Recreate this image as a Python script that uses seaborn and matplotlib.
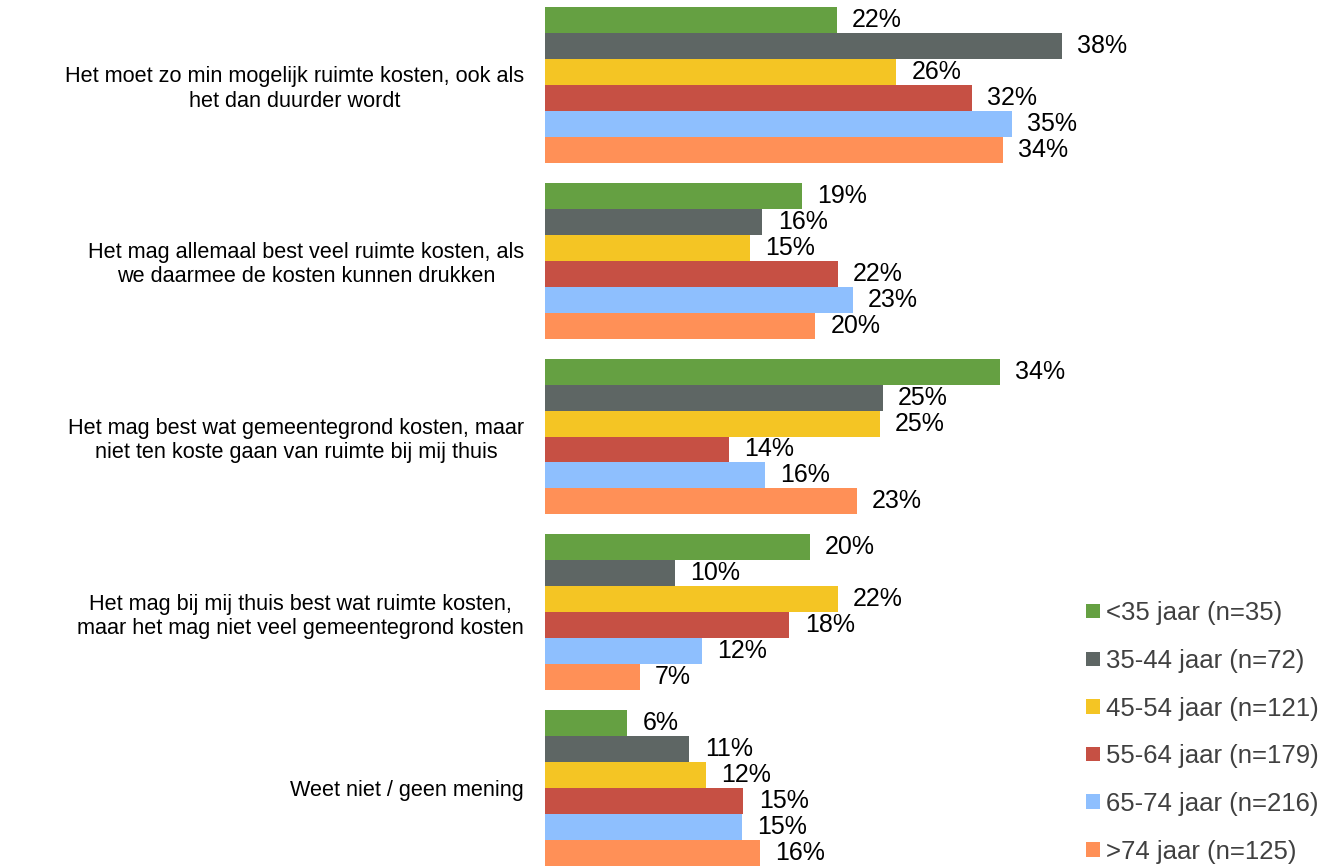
import matplotlib
matplotlib.use("Agg")
import matplotlib.pyplot as plt
import seaborn as sns
import pandas as pd

categories = [
    "Het moet zo min mogelijk ruimte kosten, ook als\nhet dan duurder wordt",
    "Het mag allemaal best veel ruimte kosten, als\nwe daarmee de kosten kunnen drukken",
    "Het mag best wat gemeentegrond kosten, maar\nniet ten koste gaan van ruimte bij mij thuis",
    "Het mag bij mij thuis best wat ruimte kosten,\nmaar het mag niet veel gemeentegrond kosten",
    "Weet niet / geen mening",
]
groups = ["<35 jaar (n=35)", "35-44 jaar (n=72)", "45-54 jaar (n=121)",
          "55-64 jaar (n=179)", "65-74 jaar (n=216)", ">74 jaar (n=125)"]
# bar lengths (labels show rounded values)
v_lt35 = [21.6, 19.0, 33.7, 19.6, 6.1]
v_35_44 = [38.3, 16.1, 25.0, 9.6, 10.7]
v_45_54 = [26.0, 15.2, 24.8, 21.7, 11.9]
v_55_64 = [31.6, 21.7, 13.6, 18.1, 14.7]
v_65_74 = [34.6, 22.8, 16.3, 11.6, 14.6]
v_gt74 = [33.9, 20.0, 23.1, 7.0, 15.9]
colors = ["#65A042", "#5E6664", "#F4C524", "#C65044", "#8EBFFE", "#FF9057"]

series = [v_lt35, v_35_44, v_45_54, v_55_64, v_65_74, v_gt74]
rows = []
for g, vals in zip(groups, series):
    for c, v in zip(categories, vals):
        rows.append({"cat": c, "group": g, "val": v})
df = pd.DataFrame(rows)

sns.set_style("white")
plt.rcParams["font.family"] = ["Liberation Sans", "DejaVu Sans"]

fig = plt.figure(figsize=(13.26, 8.66), dpi=100)
ax = fig.add_axes([545 / 1326, 0.0, 781 / 1326, 1 - 7 / 866])
sns.barplot(data=df, y="cat", x="val", hue="group", order=categories,
            hue_order=groups, palette=colors, orient="h", width=0.886,
            gap=0, ax=ax, errorbar=None, saturation=1, linewidth=0)
ax.set_xlim(0, 781 / 13.5)
ax.set_ylim(4.443, -0.443)
for cont in ax.containers:
    ax.bar_label(cont, labels=[f"{w:.0f}%" for w in cont.datavalues],
                 padding=11, fontsize=18, color="black")
for s in ax.spines.values():
    s.set_visible(False)
ax.set_xticks([])
ax.set_xlabel("")
ax.set_ylabel("")
ax.tick_params(axis="y", length=0, pad=15, labelsize=15.6, labelcolor="black")
for t in ax.get_yticklabels():
    t.set_horizontalalignment("right")
    t.set_multialignment("center")
    t.set_linespacing(1.2)

handles, labels = ax.get_legend_handles_labels()
ax.legend_.remove()
fig.legend(handles, labels, loc="lower left",
           bbox_to_anchor=(1086 / 1326, 2.5 / 866),
           frameon=False, fontsize=18.5, labelcolor="#404040",
           handlelength=0.54, handleheight=0.49, handletextpad=0.23,
           labelspacing=0.92, borderaxespad=0, borderpad=0)

fig.savefig("out.png", dpi=100)
